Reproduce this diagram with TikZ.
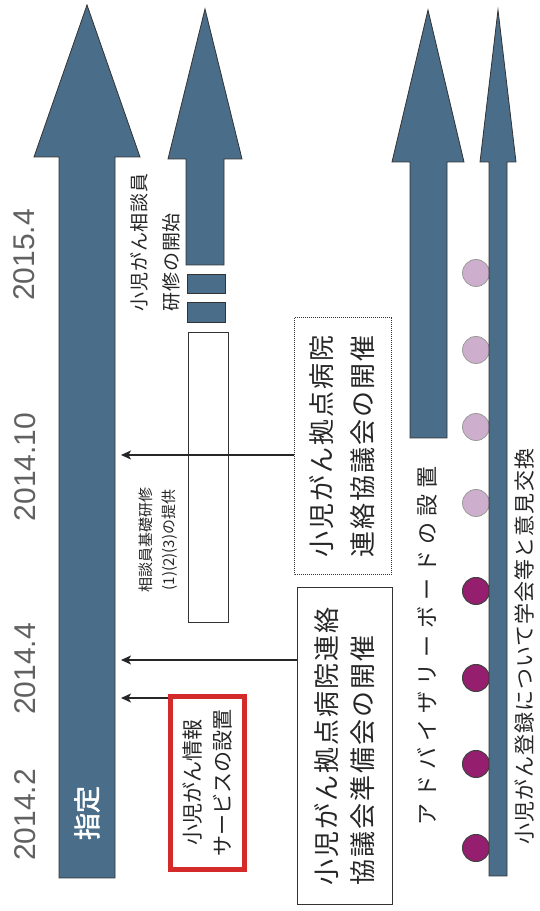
\documentclass[tikz,border=0pt]{standalone}
\usepackage{fontspec}
\setmainfont{Liberation Sans}
\newfontfamily\jp{Noto Sans CJK JP}
\newfontfamily\jpbold[FakeBold=2]{Noto Sans CJK JP}
\newfontfamily\jpA[LetterSpace=5]{Noto Sans CJK JP}
\newfontfamily\jpB[LetterSpace=28]{Noto Sans CJK JP}
\newfontfamily\jpC[LetterSpace=5]{Noto Sans CJK JP}
\newfontfamily\jpD[LetterSpace=8]{Noto Sans CJK JP}
\usetikzlibrary{arrows.meta}
\definecolor{arrowblue}{RGB}{74,109,138}
\definecolor{boxred}{RGB}{212,42,42}
\definecolor{lightpurple}{RGB}{205,175,205}
\definecolor{darkpurple}{RGB}{150,30,110}
\begin{document}
\begin{tikzpicture}[x=1pt,y=1pt,
  bluearrow/.style={fill=arrowblue, draw=black!80, line width=0.8pt, line join=miter},
  conn/.style={draw=black!85, line width=1.2pt, -{Stealth[length=10pt,width=9pt,inset=2.5pt]}},
  datelbl/.style={rotate=90, text=black!62, font=\fontsize{30}{36}\selectfont},
  jptext/.style={rotate=90, text=black!85},
  lightdot/.style={circle, fill=lightpurple, draw=black!40, line width=0.8pt, minimum size=27pt, inner sep=0pt},
  darkdot/.style={circle, fill=darkpurple, draw=black!75, line width=1pt, minimum size=27pt, inner sep=0pt},
  plainbox/.style={rotate=90, draw=black!80, line width=1pt, fill=white, inner sep=0pt, text=black!85}
]
\useasboundingbox[fill=white] (0,0) rectangle (539,911);

% main arrow
\draw[bluearrow] (59,33) -- (115,33) -- (115,754) -- (140,754) -- (87,906) -- (34,754) -- (59,754) -- cycle;
% second arrow
\draw[bluearrow] (186,646) -- (224,646) -- (224,752) -- (242,752) -- (205,902) -- (168,752) -- (186,752) -- cycle;
\draw[bluearrow] (187,618) rectangle (225,637);
\draw[bluearrow] (187,589) rectangle (225,609);
\draw[draw=black!80, line width=0.8pt, fill=white] (188,289) rectangle (228,579);
% third arrow
\draw[bluearrow] (410,473) -- (447,473) -- (447,749) -- (464,749) -- (428,901) -- (392,749) -- (410,749) -- cycle;
% circles
\node[lightdot] (c1) at (476,638) {};
\node[lightdot] (c2) at (476,561) {};
\node[lightdot] (c3) at (476,484) {};
\node[lightdot] (c4) at (476,408) {};
\node[darkdot] (c5) at (476,320) {};
\node[darkdot] (c6) at (476,233) {};
\node[darkdot] (c7) at (476,147) {};
\node[darkdot] (c8) at (476,63) {};
% fourth arrow
\draw[bluearrow] (489,35) -- (507,35) -- (507,749) -- (516,749) -- (498,901) -- (480,749) -- (489,749) -- cycle;

% dates
\node[datelbl] (d1) at (25,96) {2014.2};
\node[datelbl] (d2) at (25,242) {2014.4};
\node[datelbl] (d3) at (25,444) {2014.10};
\node[datelbl] (d4) at (24,656) {2015.4};

\node[rotate=90, text=white, font=\jpbold\fontsize{27}{30}\selectfont] (shitei) at (87,98) {指定};

\node[jptext, anchor=west, inner sep=0pt, align=left, font=\jpA\fontsize{19}{32}\selectfont] (soudan) at (155,599) {小児がん相談員\\研修の開始};
\node[jptext, align=center, font=\jp\fontsize{15}{23}\selectfont] (kiso) at (158.5,371) {相談員基礎研修\\(1)(2)(3)の提供};

\node[rotate=90, draw=boxred, line width=5pt, fill=white, minimum width=173pt, minimum height=74pt, inner sep=0pt, align=center, text=black!85, font=\jp\fontsize{21}{30}\selectfont] (red) at (207.5,128) {小児がん情報\\サービスの設置};

\node[plainbox, minimum width=317pt, minimum height=95pt, align=left, font=\jpD\fontsize{26}{36}\selectfont] (big) at (344.5,164.5) {小児がん拠点病院連絡\\協議会準備会の開催};
\node[plainbox, dash pattern=on 1pt off 1pt, minimum width=257pt, minimum height=97pt, align=center, font=\jpD\fontsize{26}{41}\selectfont] (dot) at (342.5,464.5) {小児がん拠点病院\\連絡協議会の開催};

\node[jptext, font=\jpB\fontsize{22}{24}\selectfont] (adv) at (427,265) {アドバイザリーボードの設置};
\node[jptext, font=\jpC\fontsize{21}{24}\selectfont] (reg) at (525,264.5) {小児がん登録について学会等と意見交換};

% connectors
\coordinate (shaftR) at (121,0);
\coordinate (r0) at ([yshift=85pt]red.north);
\coordinate (b0) at ([yshift=86.5pt]big.north);
\coordinate (t0) at ([yshift=-8.5pt]dot.north);
\draw[conn] (r0) -- (r0 -| shaftR);
\draw[conn] (b0) -- (b0 -| shaftR);
\draw[conn] (t0) -- (t0 -| shaftR);
\end{tikzpicture}
\end{document}
